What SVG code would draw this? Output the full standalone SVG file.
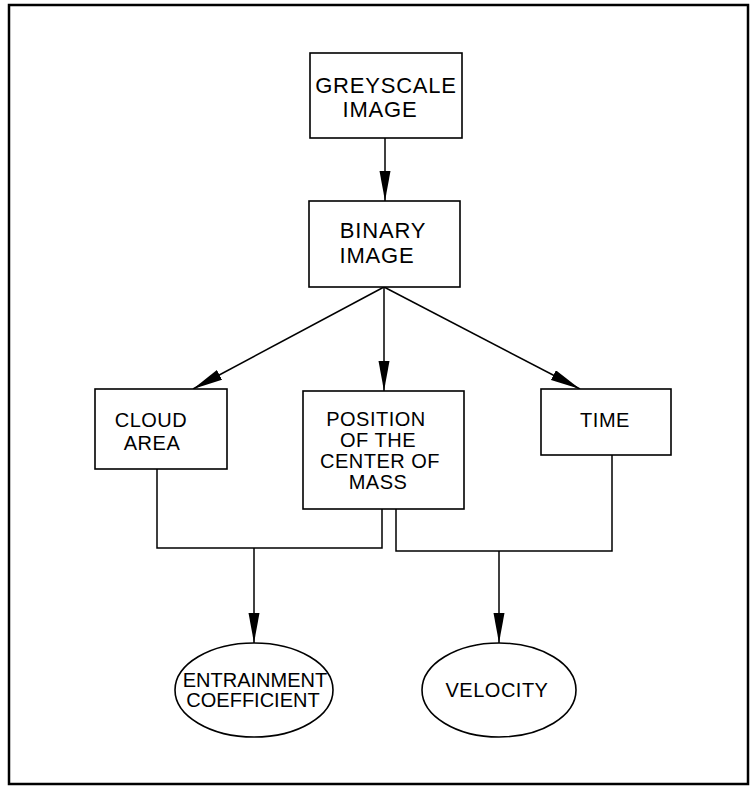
<svg xmlns="http://www.w3.org/2000/svg" width="750" height="786" viewBox="0 0 750 786">
<style>
.box{fill:#fff;stroke:#000;stroke-width:1.6}
.t{font-family:"Liberation Sans",Arial,sans-serif;font-size:20px;fill:#000;text-anchor:middle}
.tb{font-family:"Liberation Sans",Arial,sans-serif;font-size:22px;fill:#000;text-anchor:middle}
.ln{fill:none;stroke:#000;stroke-width:1.5}
</style>
<defs>
<marker id="ah" markerUnits="userSpaceOnUse" markerWidth="30" markerHeight="12" refX="30" refY="5.5" orient="auto">
<path d="M0,0 L30,5.5 L0,11 z" fill="#000"/>
</marker>
</defs>
<rect x="0" y="0" width="750" height="786" fill="#fff"/>
<rect x="9" y="5" width="739" height="779" fill="none" stroke="#000" stroke-width="2.5"/>
<g id="connectors">
<line class="ln" x1="385" y1="138" x2="385" y2="201" marker-end="url(#ah)"/>
<line class="ln" x1="384" y1="287" x2="193" y2="389" marker-end="url(#ah)"/>
<line class="ln" x1="384" y1="287" x2="384" y2="391" marker-end="url(#ah)"/>
<line class="ln" x1="384" y1="287" x2="580" y2="389" marker-end="url(#ah)"/>
<polyline class="ln" points="157,469 157,548 382,548 382,509"/>
<polyline class="ln" points="396,509 396,551 612,551 612,455"/>
<line class="ln" x1="254" y1="548" x2="254" y2="643" marker-end="url(#ah)"/>
<line class="ln" x1="499" y1="551" x2="499" y2="643" marker-end="url(#ah)"/>
</g>
<g id="greyscale">
<rect class="box" x="310" y="53" width="152" height="85"/>
<text class="tb" x="386" y="93" letter-spacing="0.8">GREYSCALE</text>
<text class="tb" x="380" y="117" letter-spacing="0.8">IMAGE</text>
</g>
<g id="binary">
<rect class="box" x="309" y="201" width="151" height="86"/>
<text class="tb" x="383" y="238" letter-spacing="0.8">BINARY</text>
<text class="tb" x="377" y="263" letter-spacing="0.8">IMAGE</text>
</g>
<g id="cloud">
<rect class="box" x="95" y="389" width="132" height="80"/>
<text class="t" x="151" y="427" letter-spacing="0.5">CLOUD</text>
<text class="t" x="152" y="450" letter-spacing="0.5">AREA</text>
</g>
<g id="position">
<rect class="box" x="303" y="391" width="161" height="118"/>
<text class="t" x="376" y="426" letter-spacing="0.5">POSITION</text>
<text class="t" x="378" y="447" letter-spacing="0.5">OF THE</text>
<text class="t" x="380" y="468" letter-spacing="0.5">CENTER OF</text>
<text class="t" x="378" y="489" letter-spacing="0.5">MASS</text>
</g>
<g id="time">
<rect class="box" x="541" y="389" width="130" height="66"/>
<text class="t" x="605" y="427" letter-spacing="0.5">TIME</text>
</g>
<g id="entrainment">
<ellipse class="box" cx="254" cy="690" rx="79" ry="47"/>
<text class="t" x="255" y="687">ENTRAINMENT</text>
<text class="t" x="253" y="707">COEFFICIENT</text>
</g>
<g id="velocity">
<ellipse class="box" cx="499" cy="690" rx="77" ry="47"/>
<text class="t" x="497" y="697" letter-spacing="0.5">VELOCITY</text>
</g>
</svg>
